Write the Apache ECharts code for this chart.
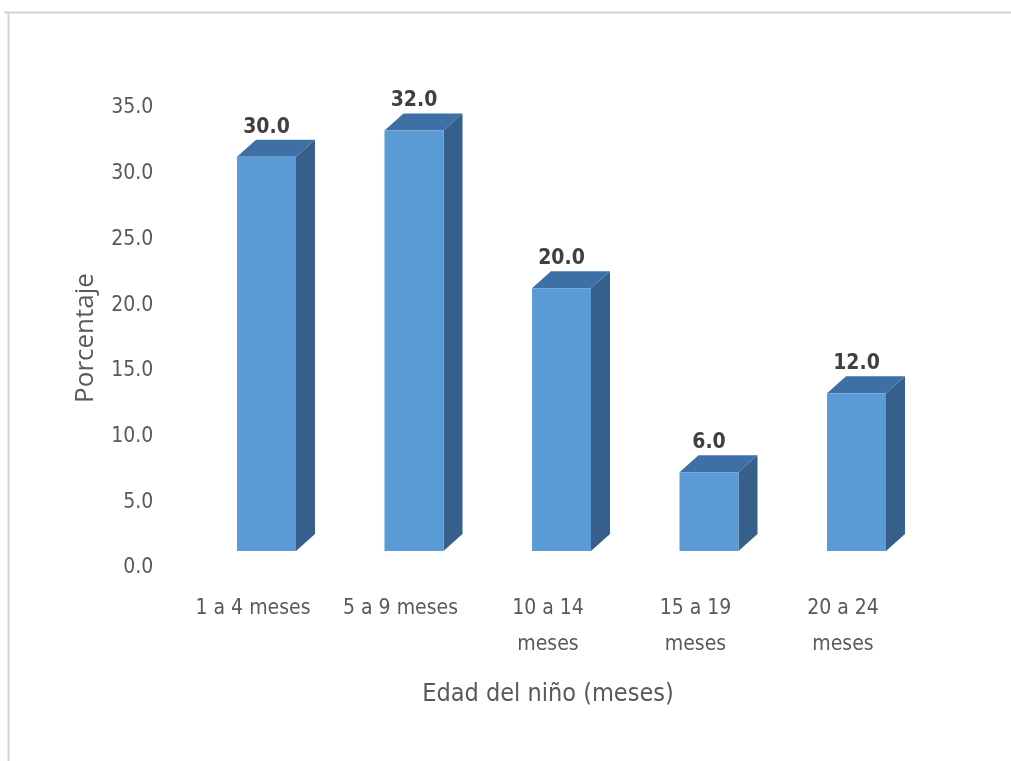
<!DOCTYPE html>
<html>
<head>
<meta charset="utf-8">
<script src="https://cdn.jsdelivr.net/npm/echarts@6/dist/echarts.min.js"></script>
<style>
  html, body { margin: 0; padding: 0; background: #ffffff; }
  #chart { width: 1011px; height: 761px; }
</style>
</head>
<body>
<div id="chart"></div>
<script>
// Age groups (months) and share of children in each group
const categories = ['1 a 4 meses', '5 a 9 meses', '10 a 14\nmeses', '15 a 19\nmeses', '20 a 24\nmeses'];
const percentages = [30.0, 32.0, 20.0, 6.0, 12.0];
const yTicks = { min: 0, max: 35, interval: 5 };

const NARROW = '"Liberation Sans Narrow", "DejaVu Sans Condensed", "Noto Sans", sans-serif';

// Box geometry for the pseudo-3D columns
const BAR_W = 59, DEPTH_X = 19, DEPTH_Y = 17, SHIFT_X = 13.5, LIFT = 17;
const FRONT = '#5b9bd5', TOP = '#3e70a6', SIDE = '#365f8b';

function renderBox(params, api) {
  const idx = api.value(0);
  const val = api.value(1);
  const base = api.coord([idx, 0]);
  const head = api.coord([idx, val]);
  const cx = base[0] + SHIFT_X;
  const x0 = cx - BAR_W / 2, x1 = cx + BAR_W / 2;
  const yb = base[1] - LIFT, yt = head[1] - LIFT;
  return {
    type: 'group',
    children: [
      { type: 'polygon', shape: { points: [[x1, yt], [x1 + DEPTH_X, yt - DEPTH_Y], [x1 + DEPTH_X, yb - DEPTH_Y], [x1, yb]] },
        style: { fill: SIDE } },
      { type: 'polygon', shape: { points: [[x0, yt], [x0 + DEPTH_X, yt - DEPTH_Y], [x1 + DEPTH_X, yt - DEPTH_Y], [x1, yt]] },
        style: { fill: TOP } },
      { type: 'rect', shape: { x: x0, y: yt, width: BAR_W, height: yb - yt },
        style: { fill: FRONT } },
      { type: 'text', x: cx, y: yt - DEPTH_Y - 2,
        style: { text: val.toFixed(1), fill: '#404040', font: 'bold 21px ' + NARROW,
                 textAlign: 'center', textVerticalAlign: 'bottom' } }
    ]
  };
}

const chart = echarts.init(document.getElementById('chart'), null, { renderer: 'canvas' });
chart.setOption({
  backgroundColor: '#ffffff',
  animation: false,
  graphic: [
    { type: 'line', shape: { x1: 4, y1: 12.5, x2: 1011, y2: 12.5 }, style: { stroke: '#d4d4d4', lineWidth: 2 } },
    { type: 'line', shape: { x1: 8.5, y1: 12, x2: 8.5, y2: 761 }, style: { stroke: '#d4d4d4', lineWidth: 2 } }
  ],
  grid: { left: 179.25, right: 94.25, top: 108, bottom: 193, containLabel: false },
  xAxis: {
    type: 'category',
    data: categories,
    axisLine: { show: false },
    axisTick: { show: false },
    axisLabel: { interval: 0, margin: 23, color: '#595959', fontSize: 21, lineHeight: 36, fontFamily: NARROW },
    name: 'Edad del niño (meses)',
    nameLocation: 'middle',
    nameGap: 114,
    nameTextStyle: { color: '#595959', fontSize: 25, fontFamily: NARROW }
  },
  yAxis: {
    type: 'value',
    min: yTicks.min,
    max: yTicks.max,
    interval: yTicks.interval,
    splitLine: { show: false },
    axisLine: { show: false },
    axisTick: { show: false },
    axisLabel: { margin: 26, color: '#595959', fontSize: 21, fontFamily: NARROW,
                 padding: [6, 0, 0, 0], formatter: v => v.toFixed(1) },
    name: 'Porcentaje',
    nameLocation: 'middle',
    nameGap: 81,
    nameRotate: 90,
    nameTextStyle: { color: '#595959', fontSize: 26, fontFamily: '"Open Sans", sans-serif' }
  },
  series: [{
    type: 'custom',
    renderItem: renderBox,
    data: percentages.map((v, i) => [i, v]),
    encode: { x: 0, y: 1 },
    clip: false
  }]
});
</script>
</body>
</html>
